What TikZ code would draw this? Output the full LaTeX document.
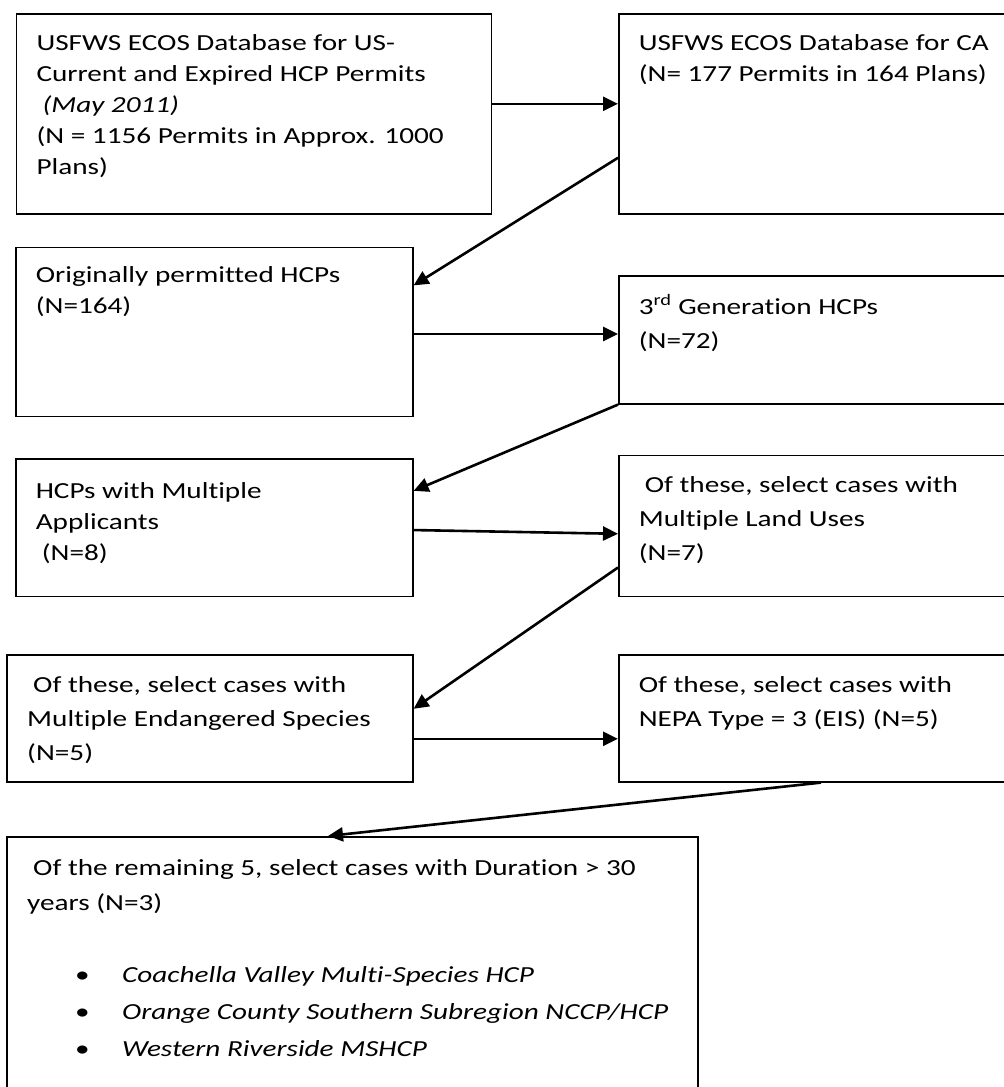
\documentclass[tikz,border=0pt]{standalone}
\usepackage{fontspec}
\setmainfont{Carlito}[FakeStretch=1.27, Ligatures=NoCommon]
\usepackage{tikz}
\usetikzlibrary{arrows.meta}

% text of a box: width, height, first baseline, lines
\newcommand{\boxtext}[4]{\parbox[t][#2][t]{#1}{\rule{0pt}{#3}#4}}

\begin{document}
\begin{tikzpicture}[x=1pt, y=-1pt,
  main/.style = {draw, line width=1.6pt, anchor=north west, inner xsep=20pt, inner ysep=0pt},
  wide/.style = {font=\fontsize{23}{34}\selectfont},
  arr/.style = {-{Triangle[length=15pt, width=14pt]}, line width=2.6pt},
  font=\fontsize{23}{31}\selectfont]
\useasboundingbox (0,0) rectangle (1004,1087);
\clip (0,0) rectangle (1004,1087);

\node[main] (1) at (15.7,13) {\boxtext{435pt}{200pt}{37pt}{USFWS ECOS Database for US-\\Current and Expired HCP Permits\\\hspace*{6pt}\textit{(May 2011)}\\(N = 1156 Permits in Approx. 1000\\Plans)}};
\node[main] (2) at (618,13) {\boxtext{400pt}{200pt}{37pt}{USFWS ECOS Database for CA\\(N= 177 Permits in 164 Plans)}};
\node[main] (3) at (15,246.7) {\boxtext{357pt}{169pt}{35pt}{Originally permitted HCPs\\(N=164)}};
\node[main, wide] (4) at (618,275) {\boxtext{400pt}{128pt}{39pt}{3\textsuperscript{rd} Generation HCPs\\(N=72)}};
\node[main] (5) at (15,458) {\boxtext{357pt}{137.5pt}{40pt}{HCPs with Multiple\\Applicants\\\hspace*{6pt}(N=8)}};
\node[main, wide] (6) at (618,454.5) {\boxtext{400pt}{141pt}{37pt}{\hspace*{6pt}Of these, select cases with\\Multiple Land Uses\\(N=7)}};
\node[main, wide] (7) at (6.4,654) {\boxtext{365.6pt}{127pt}{38pt}{\hspace*{6pt}Of these, select cases with\\Multiple Endangered Species\\(N=5)}};
\node[main, wide] (8) at (618,654) {\boxtext{400pt}{127pt}{38pt}{Of these, select cases with\\NEPA Type = 3 (EIS) (N=5)}};
\node[main, font=\fontsize{23}{35}\selectfont] (9) at (6.4,836) {\boxtext{650.6pt}{300pt}{39pt}{\hspace*{6pt}Of the remaining 5, select cases with Duration > 30\\years (N=3)\\[37pt]
\hspace*{48pt}\makebox[47pt][l]{\textbullet}\textit{Coachella Valley Multi-Species HCP}\\[2pt]
\hspace*{48pt}\makebox[47pt][l]{\textbullet}\textit{Orange County Southern Subregion NCCP/HCP}\\[2pt]
\hspace*{48pt}\makebox[47pt][l]{\textbullet}\textit{Western Riverside MSHCP}}};

\draw[arr] ([yshift=10pt]1.east) -- ([yshift=10pt]2.west);
\draw[arr] ([yshift=-44pt]2.west) -- ([yshift=46.6pt]3.east);
\draw[arr] ([yshift=-2pt]3.east) -- ([yshift=-2pt]3.east -| 4.west);
\draw[arr] (4.south west) -- ([yshift=36.7pt]5.east);
\draw[arr] ([yshift=-2.5pt]5.east) -- ([yshift=-8pt]6.west);
\draw[arr] ([yshift=-41.7pt]6.west) -- ([yshift=9.5pt]7.east);
\draw[arr] ([yshift=-20.5pt]7.east) -- ([yshift=-20.5pt]8.west);
\draw[arr] ([xshift=203pt]8.south west) -- ([xshift=321.6pt]9.north west);
\end{tikzpicture}
\end{document}
